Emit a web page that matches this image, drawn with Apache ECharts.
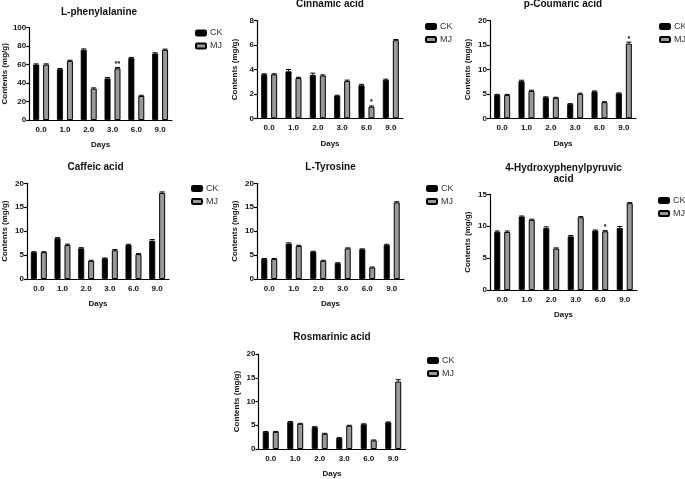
<!DOCTYPE html>
<html>
<head>
<meta charset="utf-8">
<script src="https://cdn.jsdelivr.net/npm/echarts@6/dist/echarts.min.js"></script>
<style>html,body{margin:0;padding:0;background:#fff}#c{width:685px;height:479px}</style>
</head>
<body>
<div id="c"></div>
<script>
// ---- data ----
const days = ['0.0', '1.0', '2.0', '3.0', '6.0', '9.0'];
const seriesNames = ['CK', 'MJ'];

const phenylCK = [60, 55, 76, 45, 67, 72];
const phenylMJ = [60, 64, 34, 56, 26, 76];
const phenylCKErr = [0.8, 0.8, 1.0, 1.0, 0.8, 0.8];
const phenylMJErr = [0.8, 0.8, 0.8, 1.0, 0.8, 0.8];
const phenylSig = ['', '', '', '**', '', ''];

const cinnamicCK = [3.6, 3.85, 3.55, 1.85, 2.7, 3.15];
const cinnamicMJ = [3.6, 3.3, 3.5, 3.05, 0.95, 6.4];
const cinnamicCKErr = [0.05, 0.15, 0.15, 0.04, 0.08, 0.06];
const cinnamicMJErr = [0.05, 0.06, 0.06, 0.08, 0.06, 0.06];
const cinnamicSig = ['', '', '', '', '*', ''];

const coumaricCK = [4.8, 7.6, 4.3, 2.9, 5.5, 5.1];
const coumaricMJ = [4.8, 5.6, 4.2, 5.0, 3.3, 15.3];
const coumaricCKErr = [0.1, 0.2, 0.1, 0.1, 0.1, 0.1];
const coumaricMJErr = [0.1, 0.15, 0.1, 0.15, 0.1, 0.3];
const coumaricSig = ['', '', '', '', '', '*'];

const caffeicCK = [5.6, 8.5, 6.4, 4.3, 7.1, 8.0];
const caffeicMJ = [5.6, 7.1, 3.8, 6.0, 5.2, 18.0];
const caffeicCKErr = [0.1, 0.15, 0.15, 0.1, 0.15, 0.25];
const caffeicMJErr = [0.1, 0.2, 0.1, 0.15, 0.1, 0.2];
const caffeicSig = ['', '', '', '', '', ''];

const tyrosineCK = [4.2, 7.4, 5.7, 3.3, 6.2, 7.1];
const tyrosineMJ = [4.2, 6.9, 3.8, 6.4, 2.4, 16.0];
const tyrosineCKErr = [0.1, 0.15, 0.1, 0.1, 0.1, 0.15];
const tyrosineMJErr = [0.1, 0.15, 0.1, 0.1, 0.1, 0.15];
const tyrosineSig = ['', '', '', '', '', ''];

const hppaCK = [9.1, 11.5, 9.7, 8.4, 9.3, 9.7];
const hppaMJ = [9.1, 11.0, 6.5, 11.4, 9.2, 13.6];
const hppaCKErr = [0.15, 0.1, 0.2, 0.15, 0.1, 0.25];
const hppaMJErr = [0.15, 0.1, 0.1, 0.1, 0.1, 0.1];
const hppaSig = ['', '', '', '', '*', ''];

const rosmarinicCK = [3.6, 5.7, 4.6, 2.3, 5.2, 5.6];
const rosmarinicMJ = [3.6, 5.3, 3.2, 4.9, 1.8, 14.2];
const rosmarinicCKErr = [0.1, 0.1, 0.1, 0.1, 0.1, 0.1];
const rosmarinicMJErr = [0.1, 0.1, 0.1, 0.1, 0.1, 0.4];
const rosmarinicSig = ['', '', '', '', '', ''];

const panels = [
  { title: 'L-phenylalanine', ck: phenylCK, mj: phenylMJ, ckErr: phenylCKErr, mjErr: phenylMJErr, sig: phenylSig, max: 100, step: 20 },
  { title: 'Cinnamic acid', ck: cinnamicCK, mj: cinnamicMJ, ckErr: cinnamicCKErr, mjErr: cinnamicMJErr, sig: cinnamicSig, max: 8, step: 2 },
  { title: 'p-Coumaric acid', ck: coumaricCK, mj: coumaricMJ, ckErr: coumaricCKErr, mjErr: coumaricMJErr, sig: coumaricSig, max: 20, step: 5 },
  { title: 'Caffeic acid', ck: caffeicCK, mj: caffeicMJ, ckErr: caffeicCKErr, mjErr: caffeicMJErr, sig: caffeicSig, max: 20, step: 5 },
  { title: 'L-Tyrosine', ck: tyrosineCK, mj: tyrosineMJ, ckErr: tyrosineCKErr, mjErr: tyrosineMJErr, sig: tyrosineSig, max: 20, step: 5 },
  { title: '4-Hydroxyphenylpyruvic\nacid', ck: hppaCK, mj: hppaMJ, ckErr: hppaCKErr, mjErr: hppaMJErr, sig: hppaSig, max: 15, step: 5 },
  { title: 'Rosmarinic acid', ck: rosmarinicCK, mj: rosmarinicMJ, ckErr: rosmarinicCKErr, mjErr: rosmarinicMJErr, sig: rosmarinicSig, max: 20, step: 5 }
];

// ---- layout (pixels) ----
const layouts = [
  { l: 26, t: 27.7, w: 146, h: 92.3, titleTop: 6.5, legL: 195, legT: 28.5 },
  { l: 257, t: 20.7, w: 146, h: 97.6, titleTop: -1, legL: 425, legT: 22 },
  { l: 490, t: 20.7, w: 146, h: 97.6, titleTop: -1, legL: 659, legT: 22 },
  { l: 22, t: 183.3, w: 147, h: 95.7, titleTop: 161.5, legL: 191, legT: 184 },
  { l: 257, t: 183.3, w: 147, h: 95.7, titleTop: 161.5, legL: 426, legT: 184 },
  { l: 490, t: 194.3, w: 147, h: 95.7, titleTop: 162.5, legL: 658, legT: 196 },
  { l: 258.5, t: 354, w: 147, h: 96, titleTop: 331.5, legL: 427, legT: 356 }
];

const FONT = 'Liberation Sans, Arial, sans-serif';
const BAR_W = 6;
const OFFSET = 5;

const option = {
  backgroundColor: '#fff',
  animation: false,
  title: [], grid: [], xAxis: [], yAxis: [], legend: [], series: []
};

function errRender(params, api) {
  const x = api.value(0), v = api.value(1), e = api.value(2), off = api.value(3);
  const top = api.coord([x, v + e]);
  const base = api.coord([x, v]);
  const cx = top[0] + off;
  return {
    type: 'group',
    children: [
      { type: 'line', shape: { x1: cx, y1: base[1], x2: cx, y2: top[1] }, style: { stroke: '#000', lineWidth: 1 } },
      { type: 'line', shape: { x1: cx - 2.5, y1: top[1], x2: cx + 2.5, y2: top[1] }, style: { stroke: '#000', lineWidth: 1 } }
    ]
  };
}

panels.forEach((p, i) => {
  const L = layouts[i];
  option.title.push({
    text: p.title, left: L.l + L.w / 2, top: L.titleTop, textAlign: 'center', padding: 0,
    textStyle: { fontFamily: FONT, fontSize: 10, fontWeight: 'bold', color: '#111', lineHeight: 11 }
  });
  option.grid.push({ left: L.l, top: L.t, width: L.w, height: L.h, containLabel: false });
  option.xAxis.push({
    type: 'category', gridIndex: i, data: days,
    name: 'Days', nameLocation: 'middle', nameGap: 21,
    nameTextStyle: { fontFamily: FONT, fontSize: 8, fontWeight: 'bold', color: '#111' },
    axisLine: { lineStyle: { color: '#000', width: 1.2 } },
    axisTick: { show: false },
    axisLabel: { fontFamily: FONT, fontSize: 8, fontWeight: 'bold', color: '#111', margin: 5.5 },
    splitLine: { show: false }
  });
  option.yAxis.push({
    type: 'value', gridIndex: i, min: 0, max: p.max, interval: p.step,
    name: 'Contents (mg/g)', nameLocation: 'middle', nameGap: 18,
    nameTextStyle: { fontFamily: FONT, fontSize: 8, fontWeight: 'bold', color: '#111' },
    axisLine: { show: true, lineStyle: { color: '#000', width: 1.2 } },
    axisTick: { show: true, length: 3, lineStyle: { color: '#000', width: 1.2 } },
    axisLabel: { fontFamily: FONT, fontSize: 8, fontWeight: 'bold', color: '#111', margin: 3 },
    splitLine: { show: false }
  });
  option.legend.push({
    data: seriesNames, orient: 'vertical', left: L.legL, top: L.legT, padding: 0,
    itemWidth: 10, itemHeight: 5, itemGap: 4,
    textStyle: { fontFamily: FONT, fontSize: 9, color: '#333', padding: [0, 0, 0, -1] }
  });
  option.series.push({
    name: 'CK', type: 'bar', xAxisIndex: i, yAxisIndex: i, data: p.ck,
    barWidth: BAR_W, barGap: '66%',
    itemStyle: { color: '#000', borderColor: '#000', borderWidth: 0.8 }
  });
  option.series.push({
    name: 'MJ', type: 'bar', xAxisIndex: i, yAxisIndex: i, data: p.mj,
    barWidth: BAR_W, barGap: '66%',
    itemStyle: { color: '#999', borderColor: '#000', borderWidth: 1 },
    label: {
      show: true, position: 'top', distance: 1,
      formatter: (d) => p.sig[d.dataIndex],
      fontFamily: FONT, fontSize: 7, fontWeight: 'bold', color: '#000'
    }
  });
  const errData = [];
  p.ck.forEach((v, k) => errData.push([k, v, p.ckErr[k], -OFFSET]));
  p.mj.forEach((v, k) => errData.push([k, v, p.mjErr[k], OFFSET]));
  option.series.push({
    type: 'custom', xAxisIndex: i, yAxisIndex: i, data: errData,
    renderItem: errRender, encode: { x: 0, y: 1 }, silent: true, z: 3
  });
});

const chart = echarts.init(document.getElementById('c'), null, { renderer: 'canvas' });
chart.setOption(option);
</script>
</body>
</html>
